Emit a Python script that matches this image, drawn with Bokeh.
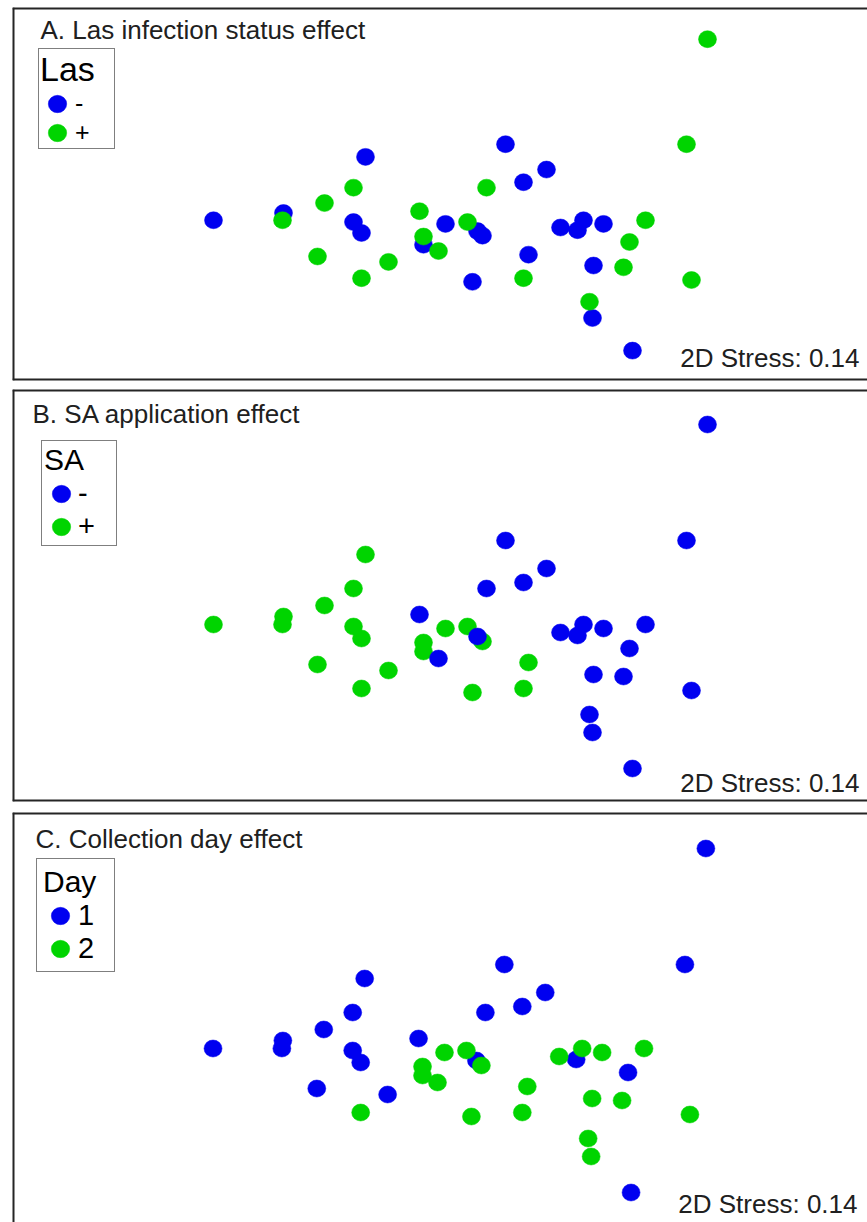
from bokeh.plotting import figure
from bokeh.models import (ColumnDataSource, Label, Legend, LegendItem, Range1d, CDSView,
                          GroupFilter, Span)
from bokeh.layouts import column
from bokeh.embed import file_html
from bokeh.resources import INLINE

# NMDS ordination of 40 samples (same coordinates in all panels)
nmds1 = [1.285, 0.275, 1.18, -0.425, 0.48, 0.365, -0.485, 0.18, -0.63, -0.835,
         -0.84, -1.185, -0.155, -0.485, -0.445, -0.025, 0.085, 0.135, 0.16, -0.135,
         -0.135, 0.55, 0.635, 0.665, 0.765, 0.975, 0.895, -0.06, -0.665, -0.31,
         0.39, 0.715, 0.865, -0.445, 0.365, 0.11, 1.205, 0.695, 0.71, 0.91]
nmds2 = [0.855, 0.275, 0.275, 0.205, 0.135, 0.065, 0.035, 0.035, -0.05, -0.105,
         -0.145, -0.145, -0.095, -0.155, -0.215, -0.165, -0.155, -0.205, -0.23, -0.235,
         -0.28, -0.185, -0.2, -0.145, -0.165, -0.145, -0.265, -0.315, -0.345, -0.375,
         -0.335, -0.395, -0.405, -0.465, -0.465, -0.485, -0.475, -0.595, -0.685, -0.865]
las = ["+", "-", "+", "-", "-", "-", "+", "+", "+", "-",
       "+", "-", "+", "-", "-", "-", "+", "-", "-", "+",
       "-", "-", "-", "-", "-", "+", "+", "+", "+", "+",
       "-", "-", "+", "+", "+", "-", "+", "+", "-", "-"]
sa = ["-", "-", "-", "+", "-", "-", "+", "-", "+", "+",
      "+", "+", "-", "+", "+", "+", "+", "-", "+", "+",
      "+", "-", "-", "-", "-", "-", "-", "-", "+", "+",
      "+", "-", "-", "+", "+", "+", "-", "-", "-", "-"]
day = ["1", "1", "1", "1", "1", "1", "1", "1", "1", "1",
       "1", "1", "1", "1", "1", "2", "2", "1", "2", "2",
       "2", "2", "1", "2", "2", "2", "1", "2", "1", "1",
       "2", "2", "2", "2", "2", "2", "2", "2", "2", "1"]
stress = 0.14

BLUE = "#0000f0"
GREEN = "#00d400"
FONT = "Liberation Sans"
EDGE = "#252525"

src = ColumnDataSource(dict(x=nmds1, y=nmds2, las=las, sa=sa, day=day))


def panel(title, col, levels, draw_order, leg_title, height, mb, xr, yr,
          title_xy, leg_loc, stress_xy, leg_style, bottom_edge=True):
    p = figure(width=867, height=height, output_backend="svg", toolbar_location=None,
               x_axis_location=None, y_axis_location=None,
               x_range=Range1d(*xr), y_range=Range1d(*yr),
               min_border_left=mb[0], min_border_right=mb[1],
               min_border_top=mb[2], min_border_bottom=mb[3])
    p.grid.visible = False
    p.outline_line_color = None
    p.background_fill_color = "white"
    # panel frame: left, top (and bottom) edges; the right edge lies off the page
    p.add_layout(Span(location=xr[0], dimension="height", line_color=EDGE, line_width=4))
    p.add_layout(Span(location=yr[1], dimension="width", line_color=EDGE, line_width=4))
    if bottom_edge:
        p.add_layout(Span(location=yr[0], dimension="width", line_color=EDGE, line_width=4))
    rends = {}
    colors = {levels[0]: BLUE, levels[1]: GREEN}
    for lv in draw_order:
        view = CDSView(filter=GroupFilter(column_name=col, group=lv))
        rends[lv] = p.ellipse(x="x", y="y", width=18, height=17, width_units="screen",
                              height_units="screen", source=src, view=view,
                              fill_color=colors[lv], line_color=colors[lv], line_width=0.5)
    p.add_layout(Label(x=title_xy[0], y=title_xy[1], x_units="screen", y_units="screen",
                       text=title, text_font=FONT, text_font_size="26px",
                       text_baseline="bottom", text_color="#202020"))
    p.add_layout(Label(x=stress_xy[0], y=stress_xy[1], x_units="screen", y_units="screen",
                       text="2D Stress: %.2f" % stress, text_align="right",
                       text_baseline="bottom",
                       text_font=FONT, text_font_size="26px", text_color="#202020"))
    title_fs, label_fs, pad, gw, stand, lw = leg_style
    leg = Legend(items=[LegendItem(label=lv, renderers=[rends[lv]]) for lv in levels],
                 title=leg_title, location=leg_loc,
                 title_text_font=FONT, title_text_font_size=title_fs,
                 title_text_font_style="normal", title_text_color="black",
                 title_standoff=0,
                 label_text_font=FONT, label_text_font_size=label_fs,
                 label_text_color="black",
                 glyph_width=gw, glyph_height=23, label_standoff=stand,
                 label_height=20, label_width=lw,
                 padding=pad, margin=0, spacing=0,
                 border_line_color="black", border_line_width=1.5,
                 background_fill_color="white", background_fill_alpha=1.0)
    p.add_layout(leg)
    return p


pA = panel("A. Las infection status effect", "las", ["-", "+"], ["-", "+"], "Las",
           385, (12, 0, 7, 5), (-2.19, 2.085), (-1.03, 1.03),
           (28, 336), (26, 231), (847, 8), ("34px", "25px", 1, 34, 1, 38))
pB = panel("B. SA application effect", "sa", ["-", "+"], ["+", "-"], "SA",
           421, (12, 0, 4, 5), (-2.19, 2.085), (-1.03, 1.03),
           (20, 373), (29, 255), (847, 4), ("30px", "29px", 2, 34, 0, 36))
pC = panel("C. Collection day effect", "day", ["1", "2"], ["1", "2"], "Day",
           416, (10, 0, 6, 0), (-2.19, 2.095), (-1.015, 1.035),
           (23, 369), (24, 250), (845, 4), ("30px", "29px", 6, 34, 1, 30),
           bottom_edge=False)

layout = column(pA, pB, pC, spacing=0)
open("out.html", "w").write(file_html(layout, INLINE))
